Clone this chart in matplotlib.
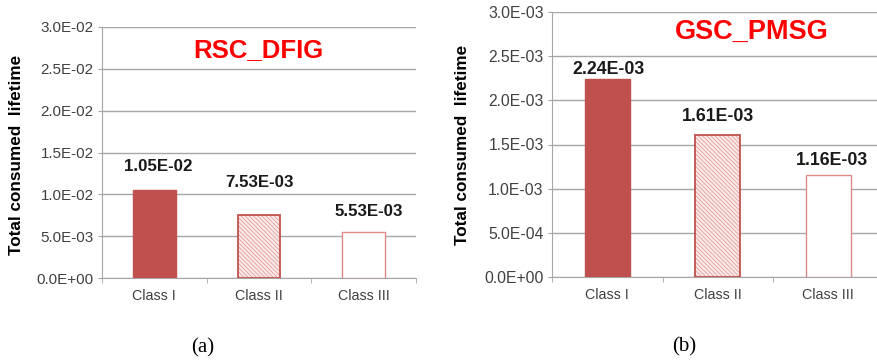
import matplotlib
matplotlib.use("Agg")
import matplotlib.pyplot as plt
from matplotlib.ticker import FixedLocator

plt.rcParams['font.family'] = ['Liberation Sans', 'DejaVu Sans']
plt.rcParams['hatch.linewidth'] = 0.6

categories = ["Class I", "Class II", "Class III"]
rsc_values = [1.05e-2, 7.53e-3, 5.53e-3]
rsc_labels = ["1.05E-02", "7.53E-03", "5.53E-03"]
rsc_ticks = [0, 5e-3, 1e-2, 1.5e-2, 2e-2, 2.5e-2, 3e-2]
rsc_ticklabels = ["0.0E+00", "5.0E-03", "1.0E-02", "1.5E-02", "2.0E-02", "2.5E-02", "3.0E-02"]
gsc_values = [2.24e-3, 1.61e-3, 1.16e-3]
gsc_labels = ["2.24E-03", "1.61E-03", "1.16E-03"]
gsc_ticks = [0, 5e-4, 1e-3, 1.5e-3, 2e-3, 2.5e-3, 3e-3]
gsc_ticklabels = ["0.0E+00", "5.0E-04", "1.0E-03", "1.5E-03", "2.0E-03", "2.5E-03", "3.0E-03"]

W, H = 878, 361
fig = plt.figure(figsize=(W / 100, H / 100), dpi=100)

def px_axes(x0, x1, ytop, ybot):
    return fig.add_axes([x0 / W, (H - ybot) / H, (x1 - x0) / W, (ybot - ytop) / H])

GRID = '#A6A6A6'
RED = '#C0504D'

def panel(ax, values, labels, ticks, ticklabels, title, title_xy, title_size,
          tick_size, val_size, label_offsets_px, label_dx_px):
    x = list(range(len(categories)))
    bw = 0.41
    # hatched fill layer (hatch colour follows edge colour)
    hatch_bars = ax.bar(x[1:2], values[1:2], width=bw, zorder=3,
                        facecolor='#FBEAEA', edgecolor='#E39C9A', linewidth=0,
                        hatch='\\\\\\\\\\\\\\\\')
    bars = ax.bar(x, values, width=bw, zorder=4)
    bars[0].set_facecolor(RED)
    bars[0].set_edgecolor(RED)
    bars[1].set_facecolor('none')
    bars[1].set_edgecolor(RED)
    bars[1].set_linewidth(1.3)
    bars[2].set_facecolor('white')
    bars[2].set_edgecolor('#DC8A88')
    bars[2].set_linewidth(1.0)
    ax.set_xlim(-0.5, 2.5)
    ax.set_ylim(ticks[0], ticks[-1])
    ax.set_yticks(ticks)
    ax.set_yticklabels(ticklabels, fontsize=tick_size, color='#404040')
    ax.set_xticks(x)
    ax.set_xticklabels(categories, fontsize=10.3, color='#404040')
    ax.xaxis.set_minor_locator(FixedLocator([-0.5, 0.5, 1.5, 2.5]))
    ax.tick_params(axis='x', which='major', length=0, pad=8)
    ax.tick_params(axis='x', which='minor', length=3.5, color=GRID, direction='out')
    ax.tick_params(axis='y', length=3, color=GRID, pad=3)
    ax.grid(axis='y', color=GRID, linewidth=1.0, zorder=0)
    ax.set_axisbelow(True)
    for s in ['top', 'right']:
        ax.spines[s].set_visible(False)
    ax.spines['left'].set_color(GRID)
    ax.spines['bottom'].set_color(GRID)
    ax.set_facecolor('none')
    for i, (v, lab) in enumerate(zip(values, labels)):
        ax.annotate(lab, (i, v), xytext=(label_dx_px[i] * 0.72, label_offsets_px[i] * 0.72),
                    textcoords='offset points', ha='center', va='center',
                    fontsize=val_size, fontweight='bold', color='#1a1a1a')
    ax.text(title_xy[0], title_xy[1], title, transform=ax.transAxes, ha='center', va='center',
            fontsize=title_size, fontweight='bold', color='#FF0000')
    ax.set_ylabel("Total consumed  lifetime", fontsize=12.3, fontweight='bold')

axL = px_axes(102, 416, 27, 278)
panel(axL, rsc_values, rsc_labels, rsc_ticks, rsc_ticklabels, "RSC_DFIG",
      ((258 - 102) / 314, (278 - 50) / 251), 18.5, 10.9, 12.2,
      [24, 32, 20], [4, 0, 5])
axL.yaxis.set_label_coords((24 - 102) / 314, (278 - 155) / 251)

axR = px_axes(552, 883.5, 12, 277)
panel(axR, gsc_values, gsc_labels, gsc_ticks, gsc_ticklabels, "GSC_PMSG",
      ((752 - 552) / 331.5, (277 - 32) / 265), 19.5, 11.3, 12.8,
      [10, 18, 14], [1, 0, 4])
axR.yaxis.set_label_coords((470 - 552) / 331.5, (277 - 145) / 265)

fig.text(203 / W, 1 - 348 / H, "(a)", ha='center', va='center', fontsize=15,
         family='Liberation Serif')
fig.text(684 / W, 1 - 347 / H, "(b)", ha='center', va='center', fontsize=15,
         family='Liberation Serif')

fig.savefig("out.png", dpi=100)
